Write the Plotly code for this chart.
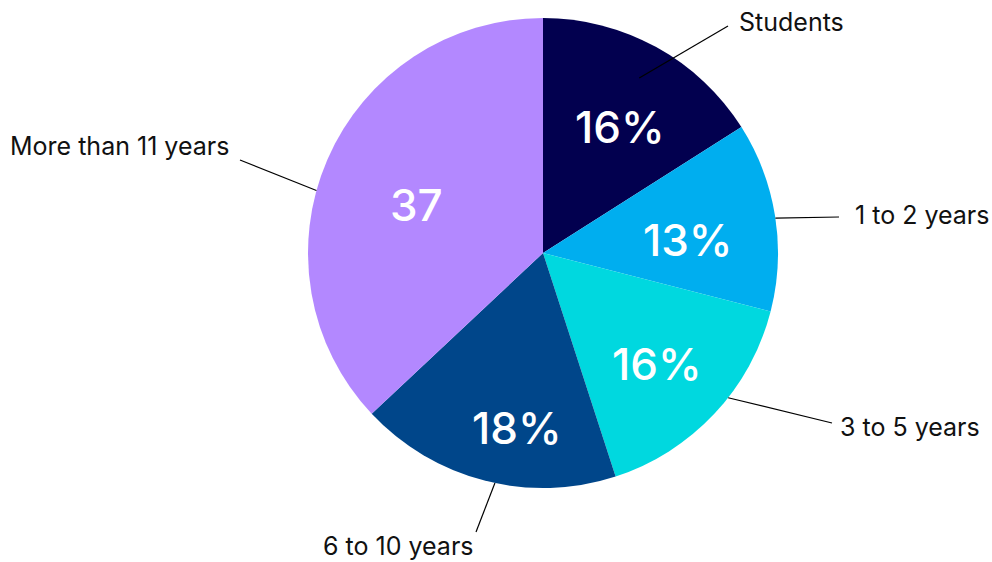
import math
import plotly.graph_objects as go

# ---- data ----
categories = ["Students", "1 to 2 years", "3 to 5 years", "6 to 10 years", "More than 11 years"]
values = [16, 13, 16, 18, 37]
value_suffix = ["%", "%", "%", "%", ""]

# ---- style ----
colors = ["#02004F", "#00AEEF", "#00D8DF", "#00468A", "#B388FF"]
W, H = 992, 562
CX, CY, R = 543, 253, 235  # pie centre / radius in pixels
FONT = "Inter, 'Noto Sans', sans-serif"

# inside value text: fraction along slice span, radius fraction
txt_frac = [0.535, 0.56, 0.505, 0.41, 0.49]
txt_r = [0.64, 0.62, 0.67, 0.74, 0.58]
# leader line start: fraction along slice span, radius fraction
lead_frac = [0.5, 0.51, 0.41, 0.46, 0.44]
lead_r = [0.85, 1.0, 1.0, 1.0, 1.0]
# leader end and label anchors (pixels)
lead_end = [(728, 26), (839, 217), (832, 423), (476, 532), (240, 160)]
label_pos = [(737, 22, "left"), (853, 215, "left"), (838, 427, "left"), (398, 546, "center"), (231, 146, "right")]


def px(x):
    return x / W


def py(y):
    return (H - y) / H


fig = go.Figure(go.Pie(
    labels=categories,
    values=values,
    sort=False,
    direction="clockwise",
    rotation=0,
    marker=dict(colors=colors, line=dict(width=0)),
    textinfo="none",
    showlegend=False,
    hoverinfo="label+value",
    domain=dict(x=[px(CX - R), px(CX + R)], y=[py(CY + R), py(CY - R)]),
))

total = sum(values)
cum = 0
shapes, annotations = [], []
for i, v in enumerate(values):
    a0 = cum / total * 360
    a1 = (cum + v) / total * 360
    cum += v
    # leader line
    ang = math.radians(a0 + lead_frac[i] * (a1 - a0))
    sx = CX + R * lead_r[i] * math.sin(ang)
    sy = CY - R * lead_r[i] * math.cos(ang)
    ex, ey = lead_end[i]
    shapes.append(dict(type="line", xref="paper", yref="paper",
                       x0=px(sx), y0=py(sy), x1=px(ex), y1=py(ey),
                       line=dict(color="black", width=1.2)))
    # outside label
    lx, ly, anc = label_pos[i]
    annotations.append(dict(x=px(lx), y=py(ly), xref="paper", yref="paper",
                            text=categories[i], showarrow=False,
                            xanchor=anc, yanchor="middle",
                            font=dict(family=FONT, size=25, color="#111111")))
    # inside value
    ta = math.radians(a0 + txt_frac[i] * (a1 - a0))
    tx = CX + R * txt_r[i] * math.sin(ta)
    ty = CY - R * txt_r[i] * math.cos(ta) + 3
    annotations.append(dict(x=px(tx), y=py(ty), xref="paper", yref="paper",
                            text=f"{v}{value_suffix[i]}", showarrow=False,
                            xanchor="center", yanchor="middle",
                            font=dict(family=FONT, size=44, color="white", weight=500)))

fig.update_layout(
    width=W, height=H,
    margin=dict(l=0, r=0, t=0, b=0),
    paper_bgcolor="white", plot_bgcolor="white",
    shapes=shapes, annotations=annotations,
)

fig.write_html("out.html")
